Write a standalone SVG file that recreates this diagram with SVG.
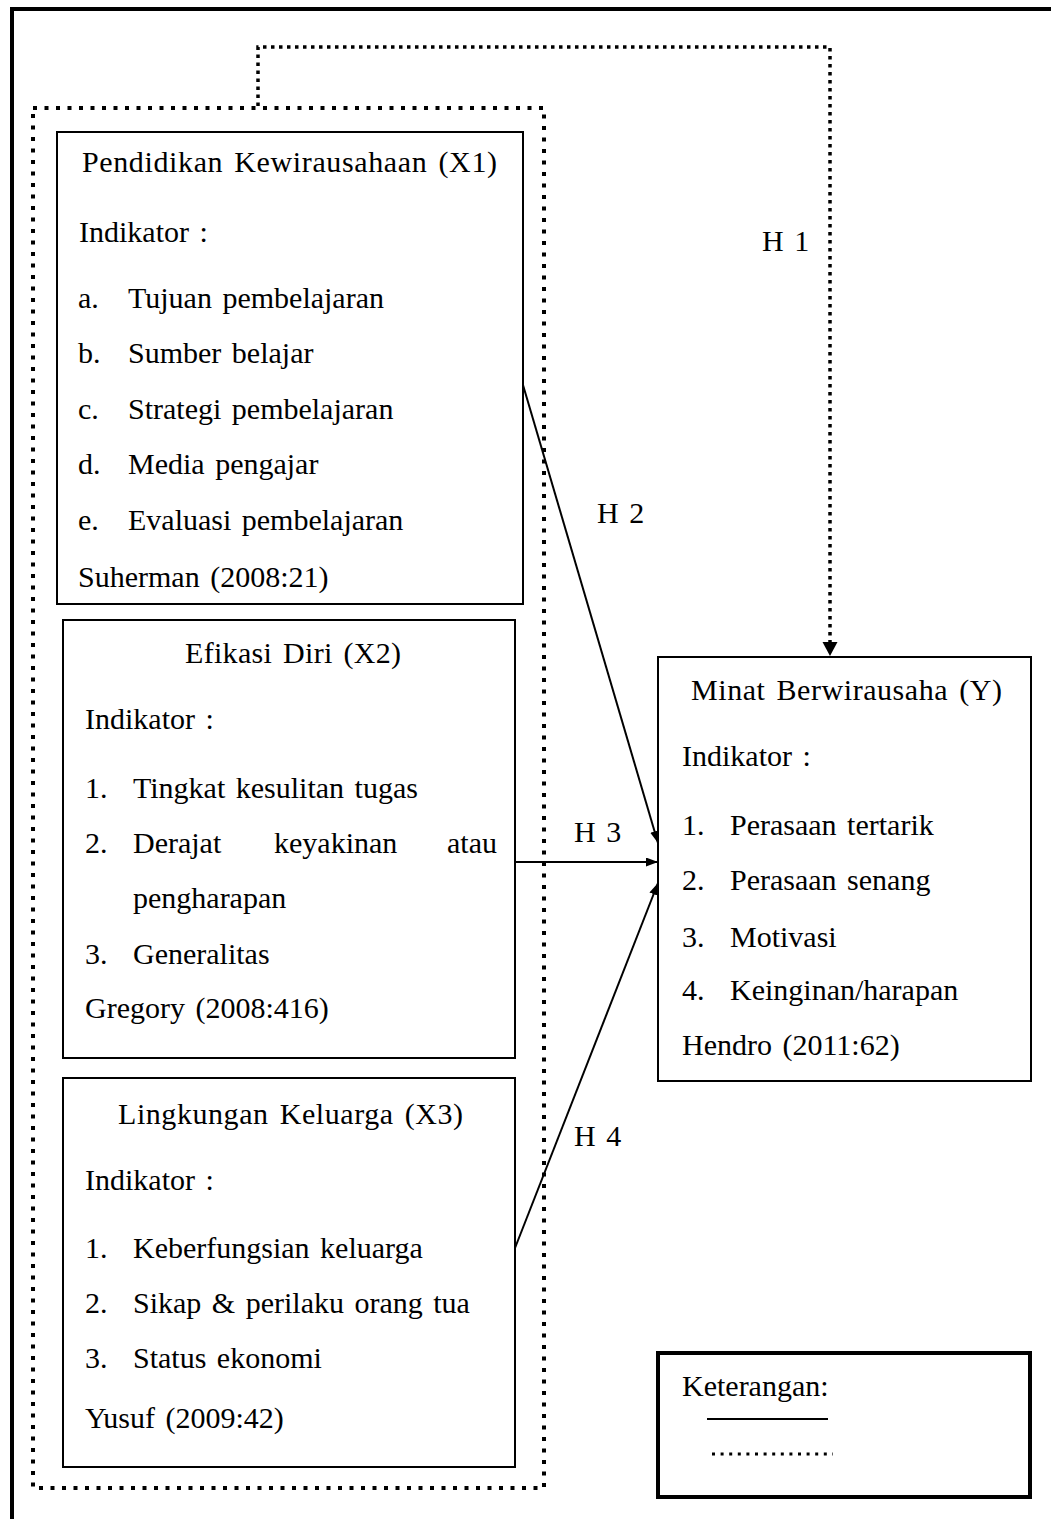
<svg xmlns="http://www.w3.org/2000/svg" width="1051" height="1519" viewBox="0 0 1051 1519">
<style>
text { font-family: "Liberation Serif", "Times New Roman", serif; font-size: 30px; fill: #000; word-spacing: 3px; }
.box { fill: #fff; stroke: #000; stroke-width: 2; }
.frame { fill: none; stroke: #000; stroke-width: 4; }
.group { fill: none; stroke: #000; stroke-width: 4; stroke-dasharray: 4 7.5; }
.dot { fill: none; stroke: #000; stroke-width: 3.5; stroke-dasharray: 3.5 4.5; }
.ldot { fill: none; stroke: #000; stroke-width: 3; stroke-dasharray: 3 5.6; }
.solid { fill: none; stroke: #000; stroke-width: 2; }
</style>
<defs>
<marker id="arr" markerUnits="userSpaceOnUse" markerWidth="13" markerHeight="10" refX="12" refY="4.5" orient="auto">
<path d="M0,0 L12,4.5 L0,9 z" fill="#000"/>
</marker>
<marker id="arrBig" markerUnits="userSpaceOnUse" markerWidth="15" markerHeight="16" refX="14" refY="7.5" orient="auto">
<path d="M0,0 L14,7.5 L0,15 z" fill="#000"/>
</marker>
</defs>
<rect width="1051" height="1519" fill="#fff"/>
<rect id="frame" class="frame" x="12" y="9" width="1100" height="1600"/>
<rect id="group-x" class="group" x="33" y="108" width="511" height="1380"/>

<g id="node-x1">
<rect class="box" x="57" y="132" width="466" height="472"/>
<text x="82" y="172" textLength="415" lengthAdjust="spacing">Pendidikan Kewirausahaan (X1)</text>
<text x="79" y="242">Indikator :</text>
<text x="78" y="308">a.</text><text x="128" y="308">Tujuan pembelajaran</text>
<text x="78" y="363">b.</text><text x="128" y="363">Sumber belajar</text>
<text x="78" y="419">c.</text><text x="128" y="419">Strategi pembelajaran</text>
<text x="78" y="474">d.</text><text x="128" y="474">Media pengajar</text>
<text x="78" y="530">e.</text><text x="128" y="530">Evaluasi pembelajaran</text>
<text x="78" y="587">Suherman (2008:21)</text>
</g>

<g id="node-x2">
<rect class="box" x="63" y="620" width="452" height="438"/>
<text x="185" y="663" textLength="216" lengthAdjust="spacing">Efikasi Diri (X2)</text>
<text x="85" y="729">Indikator :</text>
<text x="85" y="798">1.</text><text x="133" y="798">Tingkat kesulitan tugas</text>
<text x="85" y="853">2.</text><text x="133" y="853">Derajat</text><text x="274" y="853">keyakinan</text><text x="447" y="853">atau</text>
<text x="133" y="908">pengharapan</text>
<text x="85" y="964">3.</text><text x="133" y="964">Generalitas</text>
<text x="85" y="1018">Gregory (2008:416)</text>
</g>

<g id="node-x3">
<rect class="box" x="63" y="1078" width="452" height="389"/>
<text x="118" y="1124" textLength="345" lengthAdjust="spacing">Lingkungan Keluarga (X3)</text>
<text x="85" y="1190">Indikator :</text>
<text x="85" y="1258">1.</text><text x="133" y="1258">Keberfungsian keluarga</text>
<text x="85" y="1313">2.</text><text x="133" y="1313">Sikap &amp; perilaku orang tua</text>
<text x="85" y="1368">3.</text><text x="133" y="1368">Status ekonomi</text>
<text x="85" y="1428">Yusuf (2009:42)</text>
</g>

<g id="node-y">
<rect class="box" x="658" y="657" width="373" height="424"/>
<text x="691" y="700" textLength="311" lengthAdjust="spacing">Minat Berwirausaha (Y)</text>
<text x="682" y="766">Indikator :</text>
<text x="682" y="835">1.</text><text x="730" y="835">Perasaan tertarik</text>
<text x="682" y="890">2.</text><text x="730" y="890">Perasaan senang</text>
<text x="682" y="947">3.</text><text x="730" y="947">Motivasi</text>
<text x="682" y="1000">4.</text><text x="730" y="1000">Keinginan/harapan</text>
<text x="682" y="1055">Hendro (2011:62)</text>
</g>

<g id="connectors">
<path class="dot" d="M258,106 V47 H830 V656" marker-end="url(#arrBig)"/>
<line class="solid" x1="523" y1="385" x2="658" y2="843" marker-end="url(#arr)"/>
<line class="solid" x1="515" y1="862" x2="658" y2="862" marker-end="url(#arr)"/>
<line class="solid" x1="515" y1="1248" x2="658" y2="883" marker-end="url(#arr)"/>
<text x="762" y="251">H 1</text>
<text x="597" y="523">H 2</text>
<text x="574" y="842">H 3</text>
<text x="574" y="1146">H 4</text>
</g>

<g id="legend">
<rect class="frame" x="658" y="1353" width="372" height="144"/>
<text x="682" y="1396">Keterangan:</text>
<line class="solid" x1="707" y1="1419" x2="828" y2="1419"/>
<line class="ldot" x1="712" y1="1454" x2="833" y2="1454"/>
</g>
</svg>
